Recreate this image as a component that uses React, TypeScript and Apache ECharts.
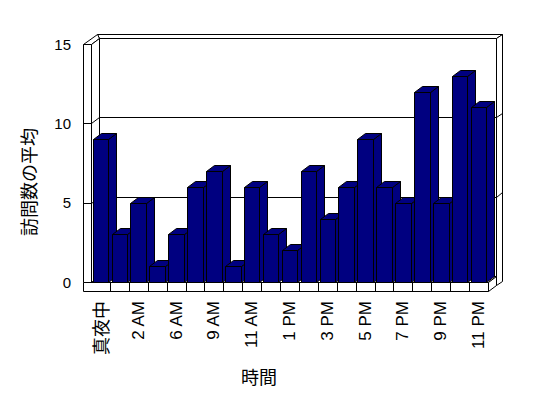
import React, { useEffect, useRef } from "react";
import * as echarts from "echarts";

const categories = [
  "真夜中", "1 AM", "2 AM", "4 AM", "6 AM", "8 AM", "9 AM", "10 AM", "11 AM", "正午",
  "1 PM", "2 PM", "3 PM", "4 PM", "5 PM", "6 PM", "7 PM", "8 PM", "9 PM", "10 PM", "11 PM",
];
const visits = [9, 3, 5, 1, 3, 6, 7, 1, 6, 3, 2, 7, 4, 6, 9, 6, 5, 12, 5, 13, 11];
const yMin = 0;
const yMax = 15;
const yInterval = 5;
const gridValues = [5, 10];
const xTitle = "時間";
const yTitle = "訪問数の平均";

const FONT = "'Liberation Sans', 'Noto Sans CJK JP', sans-serif";
const CJK = "'Noto Sans CJK JP', sans-serif";
const NAVY = "#000080";
const D1 = [8, -6];
const D2 = [14, -10.5];
const WALL = 8;
const FLOOR = 9;

const s = (v: number) => Math.round(v) + 0.5;
const P = (x: number, y: number) => [s(x), s(y)];

function poly(points: number[][], fill = "#ffffff") {
  return {
    type: "polygon",
    shape: { points },
    style: { fill, stroke: "#000000", lineWidth: 1 },
  };
}
function seg(a: number[], b: number[]) {
  return {
    type: "line",
    shape: { x1: a[0], y1: a[1], x2: b[0], y2: b[1] },
    style: { stroke: "#000000", lineWidth: 1 },
  };
}

export default function App() {
  const ref = useRef<HTMLDivElement>(null);
  useEffect(() => {
    if (!ref.current) return;
    const chart = echarts.init(ref.current, undefined, { renderer: "svg" });
    const n = categories.length;

    const renderWalls = (_p: any, api: any) => {
      const bw = api.size([1, 0])[0];
      const c0 = api.coord([0, yMin]);
      const x0 = c0[0] - bw / 2;
      const x1 = x0 + n * bw;
      const yb = c0[1];
      const yt = api.coord([0, yMax])[1];
      const ch: any[] = [];
      ch.push(poly([P(x0 + D1[0], yt + D1[1]), P(x1 + D1[0], yt + D1[1]), P(x1 + D1[0], yb + D1[1]), P(x0 + D1[0], yb + D1[1])]));
      ch.push(poly([P(x0 + D1[0], yt + D1[1]), P(x1 + D1[0], yt + D1[1]), P(x1 + D2[0], yt + D2[1]), P(x0 - WALL + D2[0], yt + D2[1])]));
      ch.push(poly([P(x1 + D1[0], yt + D1[1]), P(x1 + D2[0], yt + D2[1]), P(x1 + D2[0], yb + FLOOR + D2[1]), P(x1 + D1[0], yb + FLOOR + D1[1])]));
      ch.push(poly([P(x0 - WALL, yt), P(x0, yt), P(x0 + D1[0], yt + D1[1]), P(x0 - WALL + D2[0], yt + D2[1])]));
      ch.push(poly([P(x0, yt), P(x0 + D1[0], yt + D1[1]), P(x0 + D1[0], yb + D1[1]), P(x0, yb)]));
      ch.push(poly([P(x0 - WALL, yt), P(x0, yt), P(x0, yb), P(x0 - WALL, yb)]));
      ch.push(poly([P(x0, yb), P(x1, yb), P(x1 + D1[0], yb + D1[1]), P(x0 + D1[0], yb + D1[1])]));
      ch.push(poly([P(x1, yb), P(x1, yb + FLOOR), P(x1 + D1[0], yb + FLOOR + D1[1]), P(x1 + D1[0], yb + D1[1])]));
      ch.push(poly([P(x0 - WALL, yb), P(x1, yb), P(x1, yb + FLOOR), P(x0 - WALL, yb + FLOOR)]));
      for (let k = 1; k < n; k++) {
        const x = s(x0 + k * bw);
        ch.push(seg([x, s(yb)], [x, s(yb + FLOOR)]));
      }
      gridValues.forEach((v) => {
        const yv = api.coord([0, v])[1];
        ch.push(seg(P(x0 - WALL, yv), P(x0, yv)));
        ch.push(seg(P(x0, yv), P(x0 + D1[0], yv + D1[1])));
        ch.push(seg(P(x0 + D1[0], yv + D1[1]), P(x1 + D1[0], yv + D1[1])));
        ch.push(seg(P(x1 + D1[0], yv + D1[1]), P(x1 + D2[0], yv + D2[1])));
      });
      return { type: "group", children: ch };
    };

    const renderBar = (_p: any, api: any) => {
      const i = api.value(0);
      const v = api.value(1);
      const top = api.coord([i, v]);
      const base = api.coord([i, yMin]);
      const bw = api.size([1, 0])[0];
      const w = bw * 0.826;
      const xl = top[0] - w / 2;
      const xr = top[0] + w / 2;
      const yv = top[1];
      const yb = base[1];
      return {
        type: "group",
        children: [
          poly([P(xr, yv), P(xr + D1[0], yv + D1[1]), P(xr + D1[0], yb + D1[1]), P(xr, yb)], NAVY),
          poly([P(xl, yv), P(xr, yv), P(xr + D1[0], yv + D1[1]), P(xl + D1[0], yv + D1[1])], NAVY),
          poly([P(xl, yv), P(xr, yv), P(xr, yb), P(xl, yb)], NAVY),
        ],
      };
    };

    chart.setOption({
      animation: false,
      backgroundColor: "#ffffff",
      grid: { left: 91, right: 60, top: 44, bottom: 116, containLabel: false },
      xAxis: {
        type: "category",
        data: categories,
        axisLine: { show: false },
        axisTick: { show: false },
        splitLine: { show: false },
        axisLabel: {
          interval: 1,
          rotate: 90,
          margin: 19,
          color: "#000000",
          fontSize: 17,
          fontFamily: FONT,
          formatter: (v: string) => (/^[\x00-\x7f]*$/.test(v) ? v : `{c|${v}}`),
          rich: {
            c: { fontFamily: CJK, fontSize: 18, color: "#000000" },
          },
        },
      },
      yAxis: {
        type: "value",
        min: yMin,
        max: yMax,
        interval: yInterval,
        axisLine: { show: false },
        axisTick: { show: false },
        splitLine: { show: false },
        axisLabel: { margin: 20, color: "#000000", fontSize: 15, fontFamily: FONT },
      },
      graphic: [
        {
          type: "text",
          left: 241,
          top: 367,
          style: { text: xTitle, fill: "#000000", fontSize: 18, fontFamily: CJK },
        },
        {
          type: "text",
          x: 28,
          y: 182,
          rotation: Math.PI / 2,
          style: {
            text: yTitle,
            fill: "#000000",
            fontSize: 18,
            fontFamily: CJK,
            align: "center",
            verticalAlign: "middle",
          },
        },
      ],
      series: [
        {
          type: "custom",
          data: [[0, 0]],
          renderItem: renderWalls,
          clip: false,
          silent: true,
          z: 1,
        },
        {
          type: "custom",
          data: visits.map((v, i) => [i, v]),
          renderItem: renderBar,
          clip: false,
          z: 2,
        },
      ],
    });
    return () => chart.dispose();
  }, []);
  return (
    <div
      ref={ref}
      style={{ position: "absolute", left: 0, top: 0, width: 548, height: 398 }}
    />
  );
}
